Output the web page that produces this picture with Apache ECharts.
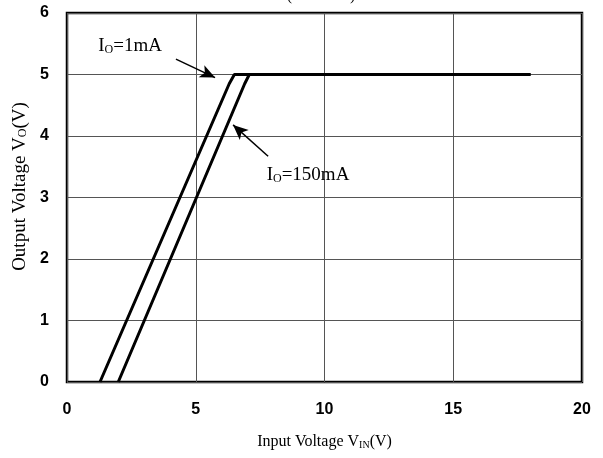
<!DOCTYPE html>
<html>
<head>
<meta charset="utf-8">
<script src="https://cdn.jsdelivr.net/npm/echarts@6/dist/echarts.min.js"></script>
<style>
html,body{margin:0;padding:0;background:#fff;}
#c{width:603px;height:458px;}
</style>
</head>
<body>
<div id="c"></div>
<script>
// Data
var vin1mA   = [1.28, 6.30, 6.50, 18];
var vo1mA    = [0,    4.85, 5,    5];
var vin150mA = [1.99, 6.90, 7.08, 18];
var vo150mA  = [0,    4.85, 5,    5];

var xTicks = [0, 5, 10, 15, 20];
var yTicks = [0, 1, 2, 3, 4, 5, 6];

// annotation arrows: [startX, startY, tipX, tipY] in data units
var arrow1mA   = [4.23, 5.25, 5.75, 4.95];
var arrow150mA = [7.81, 3.67, 6.45, 4.18];
// annotation label anchors in data units
var label1mA   = [2.45, 5.46];
var label150mA = [9.36, 3.36];

function pairs(xs, ys){ return xs.map(function(x,i){ return [x, ys[i]]; }); }

var chart = echarts.init(document.getElementById('c'), null, {renderer:'canvas'});
var serif = 'Liberation Serif';
var sans = 'Liberation Sans';

var option = {
  animation:false,
  backgroundColor:'#fff',
  grid:{left:67, right:21, top:13, bottom:76, show:true, borderColor:'#000', borderWidth:2.5, backgroundColor:'transparent'},
  xAxis:{
    type:'value', min:xTicks[0], max:xTicks[xTicks.length-1], interval:5,
    axisLine:{show:false}, axisTick:{show:false},
    splitLine:{show:true, lineStyle:{color:'#555', width:1}},
    axisLabel:{color:'#000', fontFamily:sans, fontWeight:'bold', fontSize:16, margin:20},
    name:'{m|Input Voltage V}{s|IN}{m|(V)}', nameLocation:'middle', nameGap:52,
    nameTextStyle:{rich:{
      m:{fontFamily:serif, fontSize:16, color:'#000'},
      s:{fontFamily:serif, fontSize:10, color:'#000', verticalAlign:'bottom', padding:[6,0,0,0]}
    }}
  },
  yAxis:{
    type:'value', min:yTicks[0], max:yTicks[yTicks.length-1], interval:1,
    axisLine:{show:false}, axisTick:{show:false},
    splitLine:{show:true, lineStyle:{color:'#555', width:1}},
    axisLabel:{color:'#000', fontFamily:sans, fontWeight:'bold', fontSize:16, margin:18},
    name:'{m|Output Voltage V}{s|O}{m|(V)}', nameLocation:'middle', nameGap:36, nameRotate:90,
    nameTextStyle:{padding:[0,0,0,22], rich:{
      m:{fontFamily:serif, fontSize:19, color:'#000'},
      s:{fontFamily:serif, fontSize:12, color:'#000', verticalAlign:'bottom', padding:[7,0,0,0]}
    }}
  },
  series:[
    {
      name:'IO=1mA', type:'line', data:pairs(vin1mA, vo1mA), showSymbol:false, symbol:'none',
      lineStyle:{color:'#000', width:3}, z:3,
      markLine:{
        silent:true, symbol:['none','arrow'], symbolSize:[10,15],
        lineStyle:{color:'#000', width:1.5, type:'solid'}, label:{show:false},
        data:[[{coord:[arrow1mA[0],arrow1mA[1]]},{coord:[arrow1mA[2],arrow1mA[3]]}]]
      }
    },
    {
      name:'IO=150mA', type:'line', data:pairs(vin150mA, vo150mA), showSymbol:false, symbol:'none',
      lineStyle:{color:'#000', width:3}, z:3,
      markLine:{
        silent:true, symbol:['none','arrow'], symbolSize:[10,15],
        lineStyle:{color:'#000', width:1.5, type:'solid'}, label:{show:false},
        data:[[{coord:[arrow150mA[0],arrow150mA[1]]},{coord:[arrow150mA[2],arrow150mA[3]]}]]
      }
    }
  ]
};
chart.setOption(option);

var p1 = chart.convertToPixel({gridIndex:0}, label1mA);
var p2 = chart.convertToPixel({gridIndex:0}, label150mA);
var richLbl = {
  m:{fontFamily:serif, fontSize:19, fill:'#000'},
  s:{fontFamily:serif, fontSize:12, fill:'#000', verticalAlign:'bottom', padding:[7,0,0,0]}
};
chart.setOption({
  graphic:[
    {type:'text', x:p1[0], y:p1[1], style:{text:'{m|I}{s|O}{m|=1mA}', rich:richLbl, align:'center', verticalAlign:'middle'}},
    {type:'text', x:p2[0], y:p2[1], style:{text:'{m|I}{s|O}{m|=150mA}', rich:richLbl, align:'center', verticalAlign:'middle'}},
    {type:'text', x:321, y:4, style:{text:'(Ta=25°C)', font:'16px "Liberation Serif"', fill:'#000', align:'center', verticalAlign:'bottom'}}
  ]
});
</script>
</body>
</html>
